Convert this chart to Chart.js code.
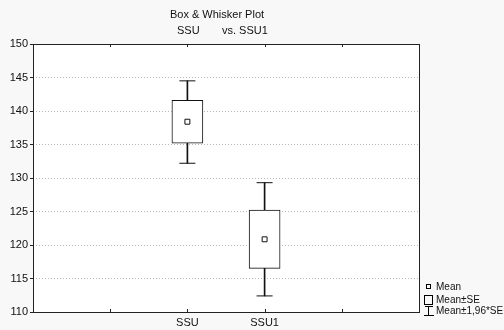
<!DOCTYPE html>
<html>
<head>
<meta charset="utf-8">
<script src="https://cdn.jsdelivr.net/npm/chart.js@4.4.1/dist/chart.umd.min.js"></script>
<style>
  html, body { margin: 0; padding: 0; background: #f8f8f8; }
  #wrap { width: 504px; height: 330px; }
</style>
</head>
<body>
<div id="wrap"><canvas id="chart" width="504" height="330"></canvas></div>
<script>
// data
let tickLabels = ["", "", "SSU", "SSU1", "", ""];
let categories = ["SSU", "SSU1"];
let means = [138.4, 120.85];
let seLow = [135.2, 116.5];
let seHigh = [141.6, 125.2];
let ciLow = [132.2, 112.4];
let ciHigh = [144.5, 129.3];

Chart.defaults.font.family = "'Liberation Sans', Arial, sans-serif";
Chart.defaults.font.size = 11;
Chart.defaults.color = "#222";

// background, title, frame, inner x ticks, legend
let decor = {
  id: "decor",
  beforeDraw: function (chart) {
    let ctx = chart.ctx;
    let a = chart.chartArea;
    ctx.save();
    ctx.fillStyle = "#f8f8f8";
    ctx.fillRect(0, 0, chart.width, chart.height);
    ctx.fillStyle = "#ffffff";
    ctx.fillRect(a.left, a.top, a.right - a.left, a.bottom - a.top);
    ctx.restore();
  },
  afterDraw: function (chart) {
    let ctx = chart.ctx;
    let a = chart.chartArea;
    let xs = chart.scales.x;
    ctx.save();
    // frame
    ctx.strokeStyle = "#222";
    ctx.lineWidth = 1;
    ctx.strokeRect(a.left + 0.5, a.top + 0.5, a.right - a.left, a.bottom - a.top);
    // inner ticks on x
    ctx.beginPath();
    for (let i = 1; i < tickLabels.length - 1; i++) {
      let px = Math.round(xs.getPixelForTick(i)) + 0.5;
      ctx.moveTo(px, a.bottom);
      ctx.lineTo(px, a.bottom - 3);
      ctx.moveTo(px, a.top);
      ctx.lineTo(px, a.top + 3);
    }
    ctx.stroke();

    // title
    ctx.fillStyle = "#111";
    ctx.font = "11px 'Liberation Sans', Arial, sans-serif";
    ctx.textBaseline = "middle";
    ctx.textAlign = "center";
    ctx.fillText("Box & Whisker Plot", 217, 15);
    ctx.textAlign = "left";
    ctx.fillText("SSU", 177, 31);
    ctx.fillText("vs. SSU1", 222, 31);

    // legend
    let lx = a.right + 7;
    ctx.font = "10px 'Liberation Sans', Arial, sans-serif";
    ctx.strokeStyle = "#000";
    ctx.strokeRect(lx + 0.5, 284.5, 4, 4);
    ctx.fillText("Mean", lx + 10, 287);
    ctx.strokeRect(lx - 1.5, 295.5, 8, 9);
    ctx.fillText("Mean\u00b1SE", lx + 10, 300);
    ctx.beginPath();
    ctx.moveTo(lx - 1, 306.5);
    ctx.lineTo(lx + 7, 306.5);
    ctx.moveTo(lx + 2.5, 306.5);
    ctx.lineTo(lx + 2.5, 315.5);
    ctx.moveTo(lx - 2, 315.5);
    ctx.lineTo(lx + 8, 315.5);
    ctx.stroke();
    ctx.fillText("Mean\u00b11,96*SE", lx + 10, 311);
    ctx.restore();
  },
};

new Chart(document.getElementById("chart"), {
  type: "bar",
  data: {
    labels: tickLabels,
    datasets: [
      {
        label: "stem",
        data: categories.map((c, i) => ({ x: c, y: [ciLow[i], ciHigh[i]] })),
        backgroundColor: "#111",
        borderWidth: 0,
        barThickness: 1,
        grouped: false,
        order: 4,
      },
      {
        label: "Mean\u00b1SE",
        data: categories.map((c, i) => ({ x: c, y: [seLow[i], seHigh[i]] })),
        backgroundColor: "#ffffff",
        borderColor: "#111",
        borderWidth: 1,
        borderSkipped: false,
        barThickness: 31,
        grouped: false,
        order: 3,
      },
      {
        type: "line",
        label: "caps",
        data: categories.flatMap((c, i) => [
          { x: c, y: ciLow[i] },
          { x: c, y: ciHigh[i] },
        ]),
        showLine: false,
        pointStyle: "line",
        pointRadius: 8,
        pointBorderWidth: 1,
        pointBorderColor: "#111",
        order: 2,
      },
      {
        type: "line",
        label: "Mean",
        data: categories.map((c, i) => ({ x: c, y: means[i] })),
        showLine: false,
        pointStyle: "rect",
        pointRadius: 3.5,
        pointBorderWidth: 1,
        pointBorderColor: "#111",
        pointBackgroundColor: "#ffffff",
        order: 1,
      },
    ],
  },
  options: {
    responsive: false,
    animation: false,
    layout: { padding: { top: 44, right: 85, left: 0, bottom: 0 } },
    plugins: {
      legend: { display: false },
      tooltip: { enabled: false },
    },
    scales: {
      x: {
        type: "category",
        offset: false,
        afterFit: function (s) { s.height = 18; },
        grid: { display: false, drawTicks: false, tickLength: 0 },
        border: { display: false },
        ticks: { autoSkip: false, maxRotation: 0, padding: 4, color: "#111" },
      },
      y: {
        min: 110,
        max: 150,
        afterFit: function (s) { s.width = 33; },
        border: { display: false, dash: [1, 2] },
        grid: {
          color: "#b8b8b8",
          tickLength: 3,
          tickColor: "#222",
          tickBorderDash: [],
        },
        ticks: { stepSize: 5, padding: 2, color: "#111" },
      },
    },
  },
  plugins: [decor],
});
</script>
</body>
</html>
